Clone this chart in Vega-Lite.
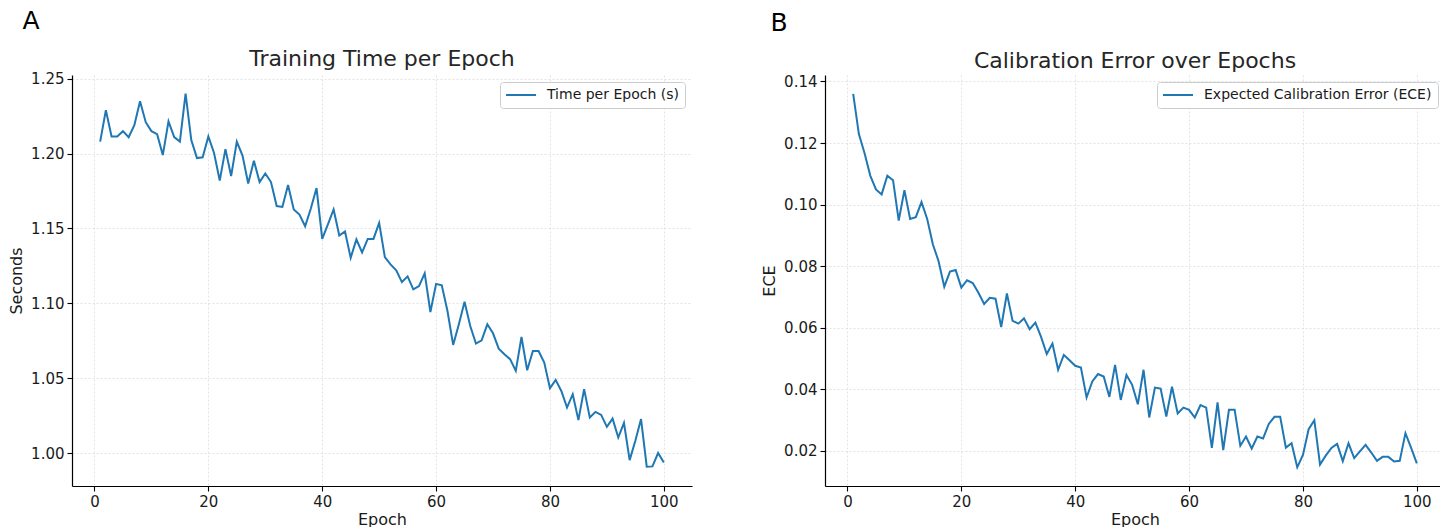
{
  "$schema": "https://vega.github.io/schema/vega-lite/v6.json",
  "background": "white",
  "padding": {"left": 8, "top": 8, "right": 0, "bottom": 0},
  "spacing": 69,
  "config": {
    "font": "DejaVu Sans",
    "view": {"stroke": null},
    "axis": {
      "domainColor": "#000000", "domainWidth": 1.2, "tickColor": "#000000", "tickSize": 5, "tickWidth": 1.1,
      "labelFont": "DejaVu Sans", "labelFontSize": 15, "labelColor": "#1a1a1a", "labelPadding": 3,
      "titleFont": "DejaVu Sans", "titleFontSize": 16, "titleFontWeight": "normal", "titleColor": "#1a1a1a",
      "gridColor": "#dcdcdc", "gridDash": [2, 2], "gridWidth": 0.8
    },
    "legend": {
      "orient": "top-right", "offset": 7, "padding": 6, "strokeColor": "#cccccc", "fillColor": "#ffffff", "cornerRadius": 3,
      "symbolType": "M-3,0H3", "symbolSize": 100, "symbolStrokeWidth": 2, "symbolOffset": 8, "labelOffset": 19, "labelLimit": 0,
      "labelFont": "DejaVu Sans", "labelFontSize": 14, "labelColor": "#1a1a1a"
    },
    "title": {"font": "DejaVu Sans", "fontWeight": "normal", "color": "#262626"}
  },
  "datasets": {
    "time": [
      {"epoch": 1, "seconds": 1.208}, {"epoch": 2, "seconds": 1.229}, {"epoch": 3, "seconds": 1.2115}, {"epoch": 4, "seconds": 1.2115}, {"epoch": 5, "seconds": 1.215},
      {"epoch": 6, "seconds": 1.211}, {"epoch": 7, "seconds": 1.219}, {"epoch": 8, "seconds": 1.235}, {"epoch": 9, "seconds": 1.221}, {"epoch": 10, "seconds": 1.215},
      {"epoch": 11, "seconds": 1.213}, {"epoch": 12, "seconds": 1.199}, {"epoch": 13, "seconds": 1.2215}, {"epoch": 14, "seconds": 1.211}, {"epoch": 15, "seconds": 1.208},
      {"epoch": 16, "seconds": 1.24}, {"epoch": 17, "seconds": 1.209}, {"epoch": 18, "seconds": 1.197}, {"epoch": 19, "seconds": 1.1975}, {"epoch": 20, "seconds": 1.2115},
      {"epoch": 21, "seconds": 1.2004}, {"epoch": 22, "seconds": 1.182}, {"epoch": 23, "seconds": 1.203}, {"epoch": 24, "seconds": 1.185}, {"epoch": 25, "seconds": 1.208},
      {"epoch": 26, "seconds": 1.1987}, {"epoch": 27, "seconds": 1.18}, {"epoch": 28, "seconds": 1.1953}, {"epoch": 29, "seconds": 1.181}, {"epoch": 30, "seconds": 1.1867},
      {"epoch": 31, "seconds": 1.181}, {"epoch": 32, "seconds": 1.165}, {"epoch": 33, "seconds": 1.1644}, {"epoch": 34, "seconds": 1.179}, {"epoch": 35, "seconds": 1.1627},
      {"epoch": 36, "seconds": 1.1593}, {"epoch": 37, "seconds": 1.1515}, {"epoch": 38, "seconds": 1.1633}, {"epoch": 39, "seconds": 1.177}, {"epoch": 40, "seconds": 1.143},
      {"epoch": 41, "seconds": 1.1527}, {"epoch": 42, "seconds": 1.1627}, {"epoch": 43, "seconds": 1.1453}, {"epoch": 44, "seconds": 1.148}, {"epoch": 45, "seconds": 1.1304},
      {"epoch": 46, "seconds": 1.1427}, {"epoch": 47, "seconds": 1.134}, {"epoch": 48, "seconds": 1.143}, {"epoch": 49, "seconds": 1.143}, {"epoch": 50, "seconds": 1.1537},
      {"epoch": 51, "seconds": 1.1309}, {"epoch": 52, "seconds": 1.126}, {"epoch": 53, "seconds": 1.122}, {"epoch": 54, "seconds": 1.1142}, {"epoch": 55, "seconds": 1.118},
      {"epoch": 56, "seconds": 1.1093}, {"epoch": 57, "seconds": 1.1115}, {"epoch": 58, "seconds": 1.12}, {"epoch": 59, "seconds": 1.0942}, {"epoch": 60, "seconds": 1.113},
      {"epoch": 61, "seconds": 1.112}, {"epoch": 62, "seconds": 1.0949}, {"epoch": 63, "seconds": 1.0722}, {"epoch": 64, "seconds": 1.086}, {"epoch": 65, "seconds": 1.101},
      {"epoch": 66, "seconds": 1.0849}, {"epoch": 67, "seconds": 1.0731}, {"epoch": 68, "seconds": 1.0753}, {"epoch": 69, "seconds": 1.086}, {"epoch": 70, "seconds": 1.08},
      {"epoch": 71, "seconds": 1.0697}, {"epoch": 72, "seconds": 1.066}, {"epoch": 73, "seconds": 1.0627}, {"epoch": 74, "seconds": 1.0549}, {"epoch": 75, "seconds": 1.0775},
      {"epoch": 76, "seconds": 1.0553}, {"epoch": 77, "seconds": 1.0682}, {"epoch": 78, "seconds": 1.0682}, {"epoch": 79, "seconds": 1.0604}, {"epoch": 80, "seconds": 1.0433},
      {"epoch": 81, "seconds": 1.0489}, {"epoch": 82, "seconds": 1.0415}, {"epoch": 83, "seconds": 1.0304}, {"epoch": 84, "seconds": 1.0393}, {"epoch": 85, "seconds": 1.022},
      {"epoch": 86, "seconds": 1.0427}, {"epoch": 87, "seconds": 1.0237}, {"epoch": 88, "seconds": 1.0275}, {"epoch": 89, "seconds": 1.0255}, {"epoch": 90, "seconds": 1.0175},
      {"epoch": 91, "seconds": 1.023}, {"epoch": 92, "seconds": 1.0104}, {"epoch": 93, "seconds": 1.0202}, {"epoch": 94, "seconds": 0.9953}, {"epoch": 95, "seconds": 1.0082},
      {"epoch": 96, "seconds": 1.0227}, {"epoch": 97, "seconds": 0.9909}, {"epoch": 98, "seconds": 0.9911}, {"epoch": 99, "seconds": 1.0}, {"epoch": 100, "seconds": 0.9937}
    ],
    "ece": [
      {"epoch": 1, "ece": 0.136}, {"epoch": 2, "ece": 0.1229}, {"epoch": 3, "ece": 0.1167}, {"epoch": 4, "ece": 0.1094}, {"epoch": 5, "ece": 0.1049},
      {"epoch": 6, "ece": 0.1033}, {"epoch": 7, "ece": 0.1094}, {"epoch": 8, "ece": 0.1079}, {"epoch": 9, "ece": 0.0948}, {"epoch": 10, "ece": 0.1047},
      {"epoch": 11, "ece": 0.0953}, {"epoch": 12, "ece": 0.0959}, {"epoch": 13, "ece": 0.1008}, {"epoch": 14, "ece": 0.0953}, {"epoch": 15, "ece": 0.087},
      {"epoch": 16, "ece": 0.0816}, {"epoch": 17, "ece": 0.0733}, {"epoch": 18, "ece": 0.0782}, {"epoch": 19, "ece": 0.0787}, {"epoch": 20, "ece": 0.073},
      {"epoch": 21, "ece": 0.0754}, {"epoch": 22, "ece": 0.0745}, {"epoch": 23, "ece": 0.0713}, {"epoch": 24, "ece": 0.0677}, {"epoch": 25, "ece": 0.0697},
      {"epoch": 26, "ece": 0.0694}, {"epoch": 27, "ece": 0.0602}, {"epoch": 28, "ece": 0.0711}, {"epoch": 29, "ece": 0.0622}, {"epoch": 30, "ece": 0.0613},
      {"epoch": 31, "ece": 0.063}, {"epoch": 32, "ece": 0.0595}, {"epoch": 33, "ece": 0.0616}, {"epoch": 34, "ece": 0.057}, {"epoch": 35, "ece": 0.0514},
      {"epoch": 36, "ece": 0.0548}, {"epoch": 37, "ece": 0.0463}, {"epoch": 38, "ece": 0.0511}, {"epoch": 39, "ece": 0.0494}, {"epoch": 40, "ece": 0.0476},
      {"epoch": 41, "ece": 0.047}, {"epoch": 42, "ece": 0.0373}, {"epoch": 43, "ece": 0.0425}, {"epoch": 44, "ece": 0.0449}, {"epoch": 45, "ece": 0.0441},
      {"epoch": 46, "ece": 0.0375}, {"epoch": 47, "ece": 0.0479}, {"epoch": 48, "ece": 0.0365}, {"epoch": 49, "ece": 0.0446}, {"epoch": 50, "ece": 0.0414},
      {"epoch": 51, "ece": 0.0351}, {"epoch": 52, "ece": 0.0463}, {"epoch": 53, "ece": 0.0308}, {"epoch": 54, "ece": 0.0405}, {"epoch": 55, "ece": 0.0402},
      {"epoch": 56, "ece": 0.0311}, {"epoch": 57, "ece": 0.0408}, {"epoch": 58, "ece": 0.0321}, {"epoch": 59, "ece": 0.034}, {"epoch": 60, "ece": 0.0333},
      {"epoch": 61, "ece": 0.0308}, {"epoch": 62, "ece": 0.0348}, {"epoch": 63, "ece": 0.034}, {"epoch": 64, "ece": 0.0209}, {"epoch": 65, "ece": 0.0357},
      {"epoch": 66, "ece": 0.0202}, {"epoch": 67, "ece": 0.0333}, {"epoch": 68, "ece": 0.0333}, {"epoch": 69, "ece": 0.0216}, {"epoch": 70, "ece": 0.0246},
      {"epoch": 71, "ece": 0.0207}, {"epoch": 72, "ece": 0.0246}, {"epoch": 73, "ece": 0.024}, {"epoch": 74, "ece": 0.0287}, {"epoch": 75, "ece": 0.031},
      {"epoch": 76, "ece": 0.031}, {"epoch": 77, "ece": 0.021}, {"epoch": 78, "ece": 0.0224}, {"epoch": 79, "ece": 0.0146}, {"epoch": 80, "ece": 0.0186},
      {"epoch": 81, "ece": 0.027}, {"epoch": 82, "ece": 0.0299}, {"epoch": 83, "ece": 0.0155}, {"epoch": 84, "ece": 0.0184}, {"epoch": 85, "ece": 0.0209},
      {"epoch": 86, "ece": 0.0222}, {"epoch": 87, "ece": 0.0166}, {"epoch": 88, "ece": 0.0224}, {"epoch": 89, "ece": 0.0176}, {"epoch": 90, "ece": 0.0198},
      {"epoch": 91, "ece": 0.0219}, {"epoch": 92, "ece": 0.0194}, {"epoch": 93, "ece": 0.0167}, {"epoch": 94, "ece": 0.018}, {"epoch": 95, "ece": 0.018},
      {"epoch": 96, "ece": 0.0165}, {"epoch": 97, "ece": 0.0167}, {"epoch": 98, "ece": 0.0257}, {"epoch": 99, "ece": 0.0209}, {"epoch": 100, "ece": 0.0159}
    ]
  },
  "hconcat": [
    {
      "title": {"text": "A", "anchor": "start", "fontSize": 25, "color": "#000000", "dx": 14, "offset": 14},
      "resolve": {"scale": {"color": "independent"}, "legend": {"color": "independent"}},
      "vconcat": [
        {
          "width": 620, "height": 411,
          "data": {"name": "time"},
          "title": {"text": "Training Time per Epoch", "fontSize": 22, "offset": 1},
          "mark": {"type": "line", "strokeWidth": 2, "color": "#1f77b4"},
          "encoding": {
            "x": {"field": "epoch", "type": "quantitative", "scale": {"domain": [-3.95, 104.95], "nice": false, "zero": false},
                  "axis": {"values": [0, 20, 40, 60, 80, 100], "title": "Epoch", "titlePadding": 2}},
            "y": {"field": "seconds", "type": "quantitative", "scale": {"domain": [0.978, 1.2525], "nice": false, "zero": false},
                  "axis": {"values": [1.0, 1.05, 1.1, 1.15, 1.2, 1.25], "format": ".2f", "title": "Seconds", "titlePadding": 6}},
            "color": {"datum": "Time per Epoch (s)", "type": "nominal", "scale": {"range": ["#1f77b4"]}, "legend": {"title": null, "orient": "top-right"}}
          }
        }
      ]
    },
    {
      "title": {"text": "B", "anchor": "start", "fontSize": 25, "color": "#000000", "dx": 9, "offset": 14},
      "resolve": {"scale": {"color": "independent"}, "legend": {"color": "independent"}},
      "vconcat": [
        {
          "width": 620, "height": 411,
          "data": {"name": "ece"},
          "title": {"text": "Calibration Error over Epochs", "fontSize": 22, "offset": 1},
          "mark": {"type": "line", "strokeWidth": 2, "color": "#1f77b4"},
          "encoding": {
            "x": {"field": "epoch", "type": "quantitative", "scale": {"domain": [-3.95, 104.95], "nice": false, "zero": false},
                  "axis": {"values": [0, 20, 40, 60, 80, 100], "title": "Epoch", "titlePadding": 2}},
            "y": {"field": "ece", "type": "quantitative", "scale": {"domain": [0.00853, 0.1421], "nice": false, "zero": false},
                  "axis": {"values": [0.02, 0.04, 0.06, 0.08, 0.1, 0.12, 0.14], "format": ".2f", "title": "ECE", "titlePadding": 6}},
            "color": {"datum": "Expected Calibration Error (ECE)", "type": "nominal", "scale": {"range": ["#1f77b4"]}, "legend": {"title": null, "orient": "top-right"}}
          }
        }
      ]
    }
  ],
  "resolve": {"scale": {"color": "independent"}, "legend": {"color": "independent"}}
}
